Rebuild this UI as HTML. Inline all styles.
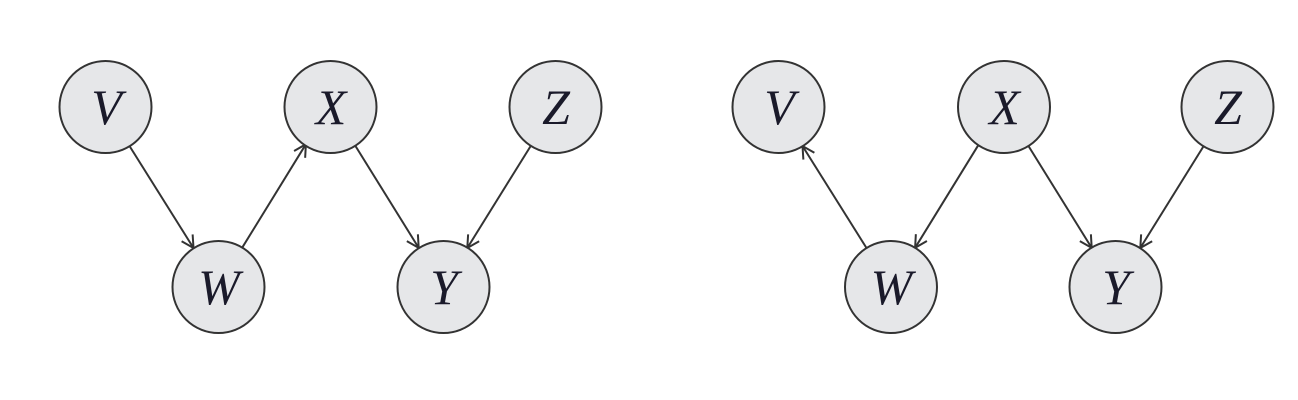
<!DOCTYPE html>
<html><head><style>html,body{margin:0;padding:0;background:#fff;}svg{display:block}</style></head>
<body>
<svg width="1298" height="400" viewBox="0 0 1298 400" xmlns="http://www.w3.org/2000/svg">
<defs>
<marker id="a" markerWidth="16" markerHeight="16" refX="13" refY="8" orient="auto" markerUnits="userSpaceOnUse">
<path d="M1,1.5 L13,8 L1,14.5" fill="none" stroke="#333" stroke-width="2"/>
</marker>
</defs>
<g stroke="#333" stroke-width="2" fill="none" marker-end="url(#a)">
<line x1="129.5" y1="146" x2="193.5" y2="248"/>
<line x1="242.1" y1="247.8" x2="305.9" y2="144.2"/>
<line x1="354.3" y1="144.1" x2="418.7" y2="247.9"/>
<line x1="530.7" y1="146" x2="467.3" y2="248"/>
<line x1="866.5" y1="248" x2="802.5" y2="146"/>
<line x1="978.9" y1="144.2" x2="915.1" y2="247.8"/>
<line x1="1027.3" y1="144.1" x2="1091.7" y2="247.9"/>
<line x1="1203.7" y1="146" x2="1140.3" y2="248"/>
</g>
<g fill="#e6e7e9" stroke="#333" stroke-width="2">
<circle cx="105.5" cy="107" r="46"/>
<circle cx="218.5" cy="287" r="46"/>
<circle cx="330.5" cy="107" r="46"/>
<circle cx="443.5" cy="287" r="46"/>
<circle cx="555.5" cy="107" r="46"/>
<circle cx="778.5" cy="107" r="46"/>
<circle cx="891" cy="287" r="46"/>
<circle cx="1004" cy="107" r="46"/>
<circle cx="1115.5" cy="287" r="46"/>
<circle cx="1227.5" cy="107" r="46"/>
</g>
<g font-family="Liberation Serif, serif" font-style="italic" font-size="50" fill="#1a1a2a" text-anchor="middle" letter-spacing="-1">
<text x="106" y="124">V</text>
<text x="218.5" y="304">W</text>
<text x="330.5" y="124">X</text>
<text x="443.5" y="304">Y</text>
<text x="555.5" y="124">Z</text>
<text x="779" y="124">V</text>
<text x="891" y="304">W</text>
<text x="1004" y="124">X</text>
<text x="1115.5" y="304">Y</text>
<text x="1227.5" y="124">Z</text>
</g>
</svg>
</body></html>
